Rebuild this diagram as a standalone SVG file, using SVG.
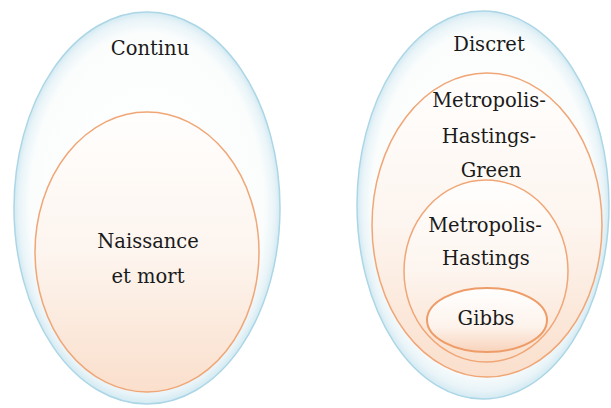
<svg xmlns="http://www.w3.org/2000/svg" width="611" height="408" viewBox="0 0 611 408">
  <defs>
    <radialGradient id="blueSet" cx="0.5" cy="0.5" r="0.5" fx="0.5" fy="0.44">
      <stop offset="0" stop-color="#ffffff"/>
      <stop offset="0.88" stop-color="#fbfdfd"/>
      <stop offset="0.96" stop-color="#e9f4f8"/>
      <stop offset="1" stop-color="#d3eaf2"/>
    </radialGradient>
    <linearGradient id="peachSet" x1="0" y1="0" x2="0" y2="1">
      <stop offset="0" stop-color="#fffefd"/>
      <stop offset="0.5" stop-color="#fdf5ef"/>
      <stop offset="1" stop-color="#fadfcc"/>
    </linearGradient>
    <linearGradient id="gibbsFill" x1="0" y1="0" x2="0" y2="1">
      <stop offset="0" stop-color="#ffffff"/>
      <stop offset="0.6" stop-color="#fdf3ec"/>
      <stop offset="1" stop-color="#f8d3bb"/>
    </linearGradient>
  </defs>
  <style>
    .outer { fill: url(#blueSet); stroke: #acd6e6; stroke-width: 1.5; }
    .inner { fill: url(#peachSet); stroke: #f0a676; stroke-width: 1.5; }
    .gibbs { fill: url(#gibbsFill); stroke: #ee9c68; stroke-width: 2; }
    .label { font-family: "DejaVu Serif", serif; font-size: 19.5px; fill: #1a1a1a; text-anchor: middle; }
  </style>
  <rect width="611" height="408" fill="#ffffff"/>

  <!-- continuous state space -->
  <g id="continu">
    <ellipse class="outer" cx="147" cy="208" rx="133" ry="196"/>
    <text class="label" x="150" y="55">Continu</text>
  </g>
  <g id="naissance-et-mort">
    <ellipse class="inner" cx="147" cy="252" rx="112" ry="140"/>
    <text class="label" x="148" y="248">Naissance</text>
    <text class="label" x="148" y="283">et mort</text>
  </g>

  <!-- discrete state space -->
  <g id="discret">
    <ellipse class="outer" cx="483" cy="205" rx="126" ry="194"/>
    <text class="label" x="489" y="51">Discret</text>
  </g>
  <g id="metropolis-hastings-green">
    <ellipse class="inner" cx="487" cy="225" rx="115" ry="152"/>
    <text class="label" x="489" y="107">Metropolis-</text>
    <text class="label" x="489" y="143">Hastings-</text>
    <text class="label" x="491" y="177">Green</text>
  </g>
  <g id="metropolis-hastings">
    <ellipse class="inner" cx="486" cy="271" rx="82" ry="91"/>
    <text class="label" x="485" y="232">Metropolis-</text>
    <text class="label" x="486" y="265">Hastings</text>
  </g>
  <g id="gibbs">
    <ellipse class="gibbs" cx="487" cy="320" rx="60" ry="32"/>
    <text class="label" x="486" y="325">Gibbs</text>
  </g>

  <g id="connectors"/>
</svg>
